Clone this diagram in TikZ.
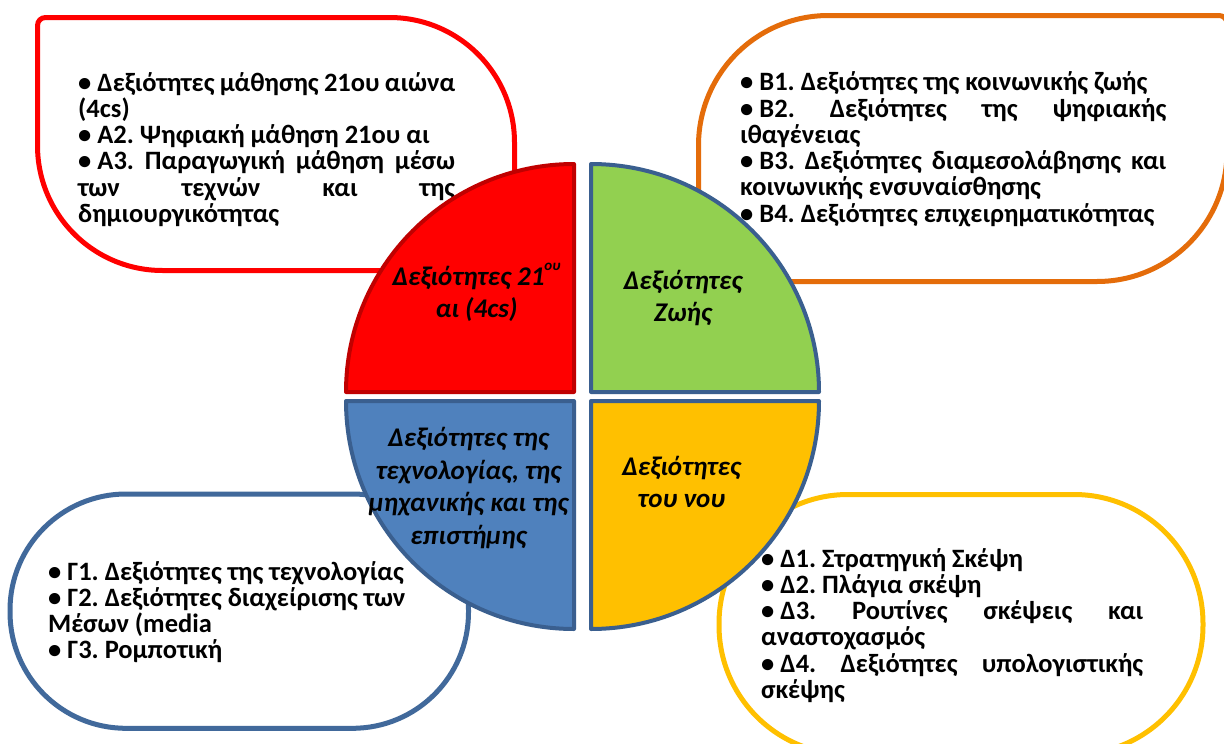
\documentclass[tikz,border=0pt]{standalone}
\usepackage{fontspec}
\setmainfont{Carlito}
\definecolor{redbox}{HTML}{FF0000}
\definecolor{orangebox}{HTML}{E46C0A}
\definecolor{bluebox}{HTML}{41699B}
\definecolor{yellowbox}{HTML}{FFC000}
\definecolor{qred}{HTML}{FF0000}
\definecolor{qgreen}{HTML}{92D050}
\definecolor{qblue}{HTML}{4F81BD}
\definecolor{qyellow}{HTML}{FFC000}
\definecolor{qredline}{HTML}{C00000}
\definecolor{qline}{HTML}{3A5F8F}
\newcommand\jl[1]{\hbox to \linewidth{\spaceskip=.23em plus 1fill minus .08em\relax #1}}
\newcommand\rl[1]{\hbox{#1}}
\newcommand\supou{\raisebox{.52em}{\fontsize{15}{15}\selectfont ου}}
\frenchspacing
\begin{document}
\begin{tikzpicture}[x=1pt,y=1pt,line join=round,
  boxline/.style={line width=5pt,fill=white},
  quad/.style={line width=4pt,draw=qline},
  btext/.style={anchor=base west,inner sep=0pt,font=\fontsize{26.5}{26.3}\selectfont\bfseries},
  qtext/.style={anchor=base,inner sep=0pt,font=\fontsize{27}{32.5}\selectfont\bfseries\itshape}]
\useasboundingbox (0,0) rectangle (1224,-744);
\fill[white] (0,0) rectangle (1224,-744);
% outer boxes
\draw[boxline,draw=redbox] (45.5,-17.5) -- (389.5,-17.5) arc[start angle=90,end angle=0,radius=125]
  -- (514.5,-262.5) arc[start angle=0,end angle=-90,radius=8]
  -- (162.5,-270.5) arc[start angle=-90,end angle=-180,radius=125]
  -- (37.5,-25.5) arc[start angle=180,end angle=90,radius=8] -- cycle;
\draw[boxline,draw=orangebox] (828.5,-15.5) -- (1219,-15.5) arc[start angle=90,end angle=0,radius=8]
  -- (1227,-151.5) arc[start angle=0,end angle=-90,radius=130]
  -- (706.5,-281.5) arc[start angle=-90,end angle=-180,radius=8]
  -- (698.5,-145.5) arc[start angle=180,end angle=90,radius=130] -- cycle;
\draw[boxline,draw=bluebox,rounded corners=116pt] (10,-494) rectangle (468.5,-728.3);
\draw[boxline,draw=yellowbox,rounded corners=129pt] (719,-494.5) rectangle (1203,-754.5);
% box texts
\node[btext] (ta) at (78,-91) {\parbox[t]{377pt}{%
  \jl{\mbox{• Δεξιότητες} μάθησης 21ου αιώνα}
  \rl{(4cs)}
  \rl{• Α2. Ψηφιακή μάθηση 21ου αι}
  \jl{\mbox{• Α3.} Παραγωγική μάθηση μέσω}
  \jl{των τεχνών και της}
  \rl{δημιουργικότητας}}};
\node[btext] (tb) at (740,-90.7) {\parbox[t]{426pt}{%
  \rl{• Β1. Δεξιότητες της κοινωνικής ζωής}
  \jl{\mbox{• Β2.} Δεξιότητες της ψηφιακής}
  \rl{ιθαγένειας}
  \jl{\mbox{• Β3.} Δεξιότητες διαμεσολάβησης και}
  \rl{κοινωνικής ενσυναίσθησης}
  \rl{• Β4. Δεξιότητες επιχειρηματικότητας}}};
\node[btext] (tc) at (48,-580) {\parbox[t]{365pt}{%
  \rl{• Γ1. Δεξιότητες της τεχνολογίας}
  \rl{• Γ2. Δεξιότητες διαχείρισης των}
  \rl{Μέσων (media}
  \rl{• Γ3. Ρομποτική}}};
\node[btext] (td) at (761,-567) {\parbox[t]{382pt}{%
  \rl{• Δ1. Στρατηγική Σκέψη}
  \rl{• Δ2. Πλάγια σκέψη}
  \jl{\mbox{• Δ3.} Ρουτίνες σκέψεις και}
  \rl{αναστοχασμός}
  \jl{\mbox{• Δ4.} Δεξιότητες υπολογιστικής}
  \rl{σκέψης}}};
% quadrants
\draw[quad,draw=qredline,fill=qred] (574,-392) -- (346,-392) arc[start angle=180,end angle=90,radius=228] -- cycle;
\draw[quad,fill=qgreen] (591,-392) -- (591,-164) arc[start angle=90,end angle=0,radius=228] -- cycle;
\draw[quad,fill=qblue] (574,-401) -- (574,-629) arc[start angle=270,end angle=180,radius=228] -- cycle;
\draw[quad,fill=qyellow] (591,-401) -- (819,-401) arc[start angle=0,end angle=-90,radius=228] -- cycle;
% quadrant texts
\node[qtext] (qa) at (476.5,-285) {\parbox[t]{230pt}{\centering Δεξιότητες 21\supou\\ αι (4cs)}};
\node[qtext] (qb) at (683,-289.3) {\parbox[t]{230pt}{\centering Δεξιότητες\\ Ζωής}};
\node[qtext] (qc) at (468.5,-446.7) {\parbox[t]{230pt}{\centering Δεξιότητες της\\ τεχνολογίας, της\\ μηχανικής και της\\ επιστήμης}};
\node[qtext] (qd) at (681.5,-475) {\parbox[t]{230pt}{\centering Δεξιότητες\\ του νου}};
\end{tikzpicture}
\end{document}
